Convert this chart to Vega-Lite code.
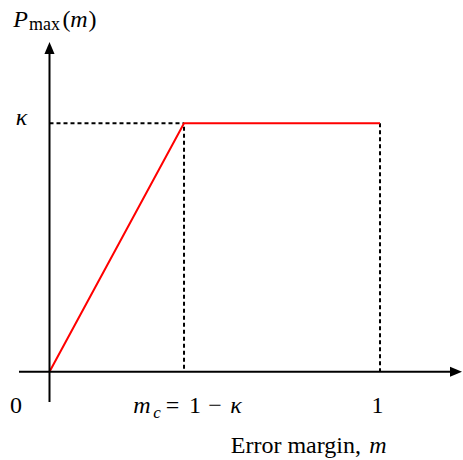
{
  "$schema": "https://vega.github.io/schema/vega-lite/v6.json",
  "width": 463,
  "height": 460,
  "autosize": {"type": "none"},
  "padding": 0,
  "background": "white",
  "config": {"view": {"stroke": null}},
  "datasets": {
    "curve": [
      {"x": 0, "y": 0},
      {"x": 0.407, "y": 0.593},
      {"x": 1, "y": 0.593}
    ],
    "dashes": [
      {"x": 0, "y": 0.593, "x2": 0.407, "y2": 0.593},
      {"x": 0.407, "y": 0.585, "x2": 0.407, "y2": 0},
      {"x": 1, "y": 0.593, "x2": 1, "y2": 0}
    ],
    "axes": [
      {"x": -0.0923, "y": 0, "x2": 1.218, "y2": 0},
      {"x": 0, "y": -0.0723, "x2": 0, "y2": 0.765}
    ],
    "arrowX": [{"x": 1.23, "y": 0}],
    "arrowY": [{"x": 0, "y": 0.7727}],
    "regular": [
      {"x": -0.1014, "y": -0.0986, "label": "0"},
      {"x": 0.9924, "y": -0.0986, "label": "1"},
      {"x": 0.3722, "y": -0.0986, "label": "="},
      {"x": 0.4402, "y": -0.0986, "label": "1"},
      {"x": 0.5008, "y": -0.0986, "label": "−"},
      {"x": 0.0514, "y": 0.8229, "label": "("},
      {"x": 0.1301, "y": 0.8229, "label": ")"}
    ],
    "italic": [
      {"x": -0.0847, "y": 0.5887, "label": "κ"},
      {"x": 0.2799, "y": -0.0986, "label": "m"},
      {"x": 0.5643, "y": -0.0986, "label": "κ"},
      {"x": -0.0877, "y": 0.8229, "label": "P"},
      {"x": 0.0893, "y": 0.8229, "label": "m"},
      {"x": 0.994, "y": -0.1941, "label": "m"}
    ],
    "subItalic": [
      {"x": 0.3253, "y": -0.1105, "label": "c"}
    ],
    "subRegular": [
      {"x": -0.0151, "y": 0.8157, "label": "max"}
    ],
    "xlabel": [
      {"x": 0.9425, "y": -0.1941, "label": "Error margin,"}
    ]
  },
  "encoding": {
    "x": {"field": "x", "type": "quantitative", "scale": {"domain": [-0.14977, 1.2511], "nice": false, "zero": false}, "axis": null},
    "y": {"field": "y", "type": "quantitative", "scale": {"domain": [-0.2108, 0.8873], "nice": false, "zero": false}, "axis": null}
  },
  "layer": [
    {
      "data": {"name": "dashes"},
      "mark": {"type": "rule", "color": "black", "strokeWidth": 2, "strokeDash": [4, 3]},
      "encoding": {"x2": {"field": "x2"}, "y2": {"field": "y2"}}
    },
    {
      "data": {"name": "curve"},
      "mark": {"type": "line", "color": "#ff0000", "strokeWidth": 2},
      "encoding": {"order": {"field": "x", "type": "quantitative"}}
    },
    {
      "data": {"name": "axes"},
      "mark": {"type": "rule", "color": "black", "strokeWidth": 2},
      "encoding": {"x2": {"field": "x2"}, "y2": {"field": "y2"}}
    },
    {
      "data": {"name": "arrowX"},
      "mark": {"type": "point", "filled": true, "color": "black", "opacity": 1, "size": 144, "shape": "M1,0L-1,-0.84L-1,0.84Z"}
    },
    {
      "data": {"name": "arrowY"},
      "mark": {"type": "point", "filled": true, "color": "black", "opacity": 1, "size": 144, "shape": "M0,-1L0.84,1L-0.84,1Z"}
    },
    {
      "data": {"name": "regular"},
      "mark": {"type": "text", "font": "Liberation Serif", "fontSize": 24, "align": "center", "baseline": "alphabetic", "color": "black"},
      "encoding": {"text": {"field": "label"}}
    },
    {
      "data": {"name": "italic"},
      "mark": {"type": "text", "font": "Liberation Serif", "fontStyle": "italic", "fontSize": 24, "align": "center", "baseline": "alphabetic", "color": "black"},
      "encoding": {"text": {"field": "label"}}
    },
    {
      "data": {"name": "subItalic"},
      "mark": {"type": "text", "font": "Liberation Serif", "fontStyle": "italic", "fontSize": 17, "align": "center", "baseline": "alphabetic", "color": "black"},
      "encoding": {"text": {"field": "label"}}
    },
    {
      "data": {"name": "subRegular"},
      "mark": {"type": "text", "font": "Liberation Serif", "fontSize": 18, "align": "center", "baseline": "alphabetic", "color": "black"},
      "encoding": {"text": {"field": "label"}}
    },
    {
      "data": {"name": "xlabel"},
      "mark": {"type": "text", "font": "Liberation Serif", "fontSize": 24, "align": "right", "baseline": "alphabetic", "color": "black"},
      "encoding": {"text": {"field": "label"}}
    }
  ]
}
